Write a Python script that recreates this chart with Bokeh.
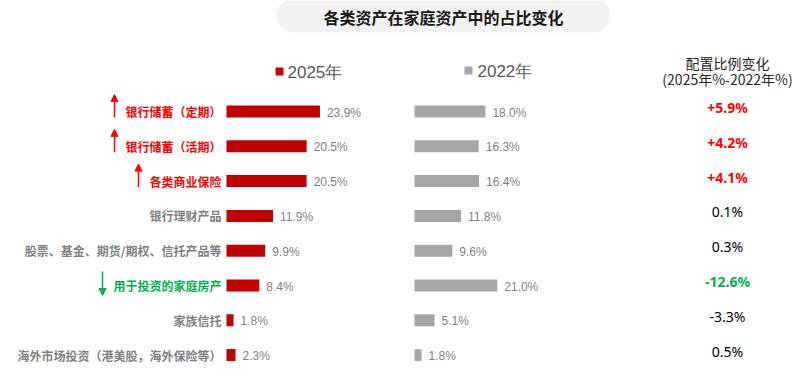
from bokeh.plotting import figure
from bokeh.models import Range1d, ColumnDataSource, Arrow, NormalHead
from bokeh.core.properties import value
from bokeh.embed import file_html
from bokeh.resources import INLINE

# ---------------- data ----------------
title = "各类资产在家庭资产中的占比变化"
categories = [
    "银行储蓄（定期）",
    "银行储蓄（活期）",
    "各类商业保险",
    "银行理财产品",
    "股票、基金、期货/期权、信托产品等",
    "用于投资的家庭房产",
    "家族信托",
    "海外市场投资（港美股，海外保险等）",
]
share_2025 = [23.9, 20.5, 20.5, 11.9, 9.9, 8.4, 1.8, 2.3]
share_2022 = [18.0, 16.3, 16.4, 11.8, 9.6, 21.0, 5.1, 1.8]
series_labels = ["2025年", "2022年"]
change_header = ["配置比例变化", "(2025年%-2022年%)"]
highlight = ["up", "up", "up", "", "", "down", "", ""]

# ---------------- styles ----------------
RED_BAR = "#C00000"
GREY_BAR = "#A6A6A6"
UP_COL = "#FF0000"
DOWN_COL = "#00B050"
LABEL_GREY = "#7F7F7F"
CJK = "Noto Sans CJK SC"
NUM = "Liberation Sans"

W, H = 800, 385
X0, Y0 = 0, 0
ROW0, ROWSTEP = 111, 34.8
B25_X, B25_S = 226, 3.91
B22_X, B22_S = 414, 3.94

n = len(categories)
idx = list(range(n))
change = [round(a - b, 1) for a, b in zip(share_2025, share_2022)]

def col_for(h, default):
    return UP_COL if h == "up" else DOWN_COL if h == "down" else default

src = ColumnDataSource(dict(
    idx=idx,
    cat=categories,
    v25=share_2025,
    v22=share_2022,
    l25=[f"{v:.1f}%" for v in share_2025],
    l22=[f"{v:.1f}%" for v in share_2022],
    catcol=[col_for(h, LABEL_GREY) for h in highlight],
    dlab=[(f"+{d:.1f}%" if h == "up" else f"{d:.1f}%") for d, h in zip(change, highlight)],
    dcol=[col_for(h, "#000000") for h in highlight],
    dstyle=["bold" if h else "normal" for h in highlight],
))

p = figure(width=W, height=H, x_range=Range1d(X0, X0 + W), y_range=Range1d(Y0 + H, Y0),
           output_backend="svg", toolbar_location=None, min_border=0,
           x_axis_location=None, y_axis_location=None)
p.grid.visible = False
p.outline_line_color = None

p.extra_x_ranges = {
    "r25": Range1d((X0 - B25_X) / B25_S, (X0 + W - B25_X) / B25_S),
    "r22": Range1d((X0 - B22_X) / B22_S, (X0 + W - B22_X) / B22_S),
}
p.extra_y_ranges = {
    "rows": Range1d((Y0 + H - ROW0) / ROWSTEP, (Y0 - ROW0) / ROWSTEP),
}

# title pill
p.rect(x=443, y=15, width=334, height=34, fill_color="#F2F2F2", line_color=None,
       border_radius=17)
p.text(x=443, y=16, text=[title], text_align="center", text_baseline="middle",
       text_font=value(CJK), text_font_size="16px", text_font_style="bold",
       text_color="#1A1A1A")

# legends
p.scatter(x=[279, 468], y=[71, 70], marker="square", size=8,
          fill_color=[RED_BAR, GREY_BAR], line_color=None)
p.text(x=[287, 477], y=[72, 71], text=series_labels, text_baseline="middle",
       text_font=value(NUM), text_font_size="17px", text_color="#595959")

# change header
p.text(x=727, y=[62, 78], text=change_header, text_align="center", text_baseline="middle",
       text_font=value(CJK), text_font_size="14px", text_color="#262626")

# bars
bh = 12 / ROWSTEP
p.hbar(y="idx", left=0, right="v25", height=bh, source=src, fill_color=RED_BAR,
       line_color=None, x_range_name="r25", y_range_name="rows")
p.hbar(y="idx", left=0, right="v22", height=bh, source=src, fill_color=GREY_BAR,
       line_color=None, x_range_name="r22", y_range_name="rows")

# value labels
p.text(x="v25", y="idx", text="l25", source=src, x_offset=7, y_offset=1, text_baseline="middle",
       text_font=value(NUM), text_font_size="12px", text_color=LABEL_GREY,
       x_range_name="r25", y_range_name="rows")
p.text(x="v22", y="idx", text="l22", source=src, x_offset=7, y_offset=1, text_baseline="middle",
       text_font=value(NUM), text_font_size="12px", text_color=LABEL_GREY,
       x_range_name="r22", y_range_name="rows")

# category labels
LABEL_RIGHT = 221
p.text(x=LABEL_RIGHT, y="idx", text="cat", source=src, text_align="right",
       text_baseline="middle", text_font=value(CJK), text_font_size="12px",
       text_font_style="bold", text_color="catcol", y_range_name="rows")

# change values
p.text(x=727, y="idx", text="dlab", source=src, y_offset=-4, text_align="center",
       text_baseline="middle", text_font=value("Noto Sans"), text_font_size="14px",
       text_font_style="dstyle", text_color="dcol", y_range_name="rows")

# arrows
for i, h in enumerate(highlight):
    if not h:
        continue
    c = col_for(h, LABEL_GREY)
    ax = LABEL_RIGHT - 12 * len(categories[i]) - 11
    if h == "up":
        ys, ye = i + 6 / ROWSTEP, i - 17 / ROWSTEP
    else:
        ys, ye = i - 14 / ROWSTEP, i + 10 / ROWSTEP
    p.add_layout(Arrow(end=NormalHead(size=7, fill_color=c, line_color=c, line_width=1),
                       x_start=ax, y_start=ys, x_end=ax, y_end=ye,
                       line_color=c, line_width=1.5, y_range_name="rows"))

open("out.html", "w").write(file_html(p, INLINE))
